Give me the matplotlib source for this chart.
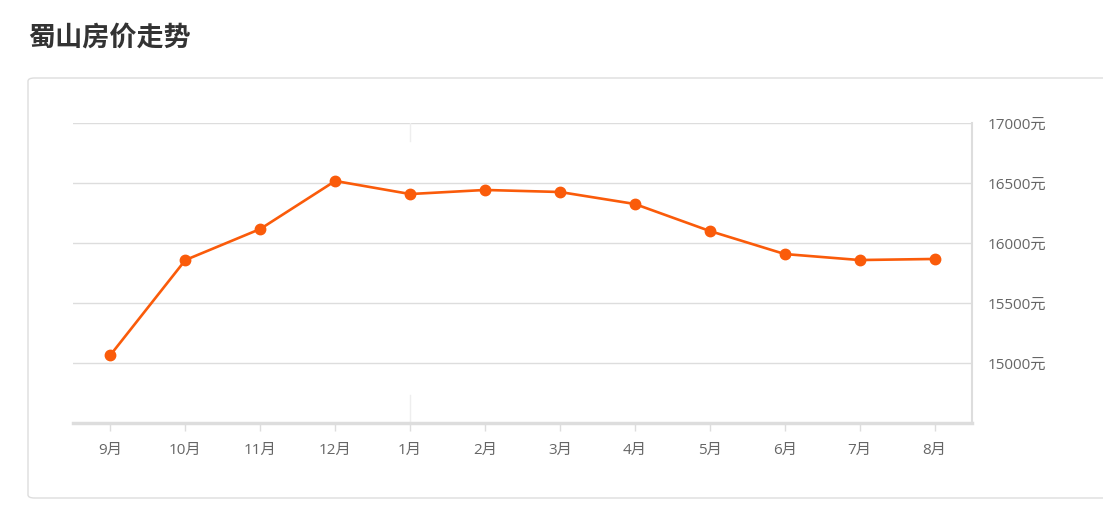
import matplotlib
matplotlib.use("Agg")
import matplotlib.pyplot as plt
from matplotlib.patches import FancyBboxPatch

plt.rcParams['font.family'] = ['Noto Sans CJK SC', 'DejaVu Sans']

months = ["9月", "10月", "11月", "12月", "1月", "2月", "3月", "4月", "5月", "6月", "7月", "8月"]
prices = [15067, 15858, 16117, 16517, 16408, 16442, 16425, 16325, 16100, 15908, 15858, 15867]
yticks = [15000, 15500, 16000, 16500, 17000]

W, H = 1103, 524
fig = plt.figure(figsize=(W / 100, H / 100), dpi=100)

# outer box
box = FancyBboxPatch((28 / W, 1 - 498 / H), 1.2, (498 - 78) / H,
                     boxstyle="round,pad=0,rounding_size=0.006",
                     transform=fig.transFigure, fill=False,
                     edgecolor="#dddddd", linewidth=1)
fig.patches.append(box)

fig.text(28 / W, 1 - 38 / H, "蜀山房价走势", fontsize=19.5, fontweight="bold",
         color="#333333", va="center", ha="left")

ax = fig.add_axes([73 / W, 1 - 423 / H, (972 - 73) / W, (423 - 123) / H])
x = list(range(len(months)))

ax.set_xlim(-0.5, len(months) - 0.5)
ax.set_ylim(14500, 17000)

for v in yticks:
    ax.axhline(v, color="#dddddd", linewidth=1, zorder=1)

# faint year separator at 1月
ax.axvline(4, ymin=0, ymax=0.095, color="#eeeeee", linewidth=1, zorder=1)
ax.axvline(4, ymin=0.94, ymax=1, color="#eeeeee", linewidth=1, zorder=1)

ax.plot(x, prices, color="#fa5b0a", linewidth=1.9, marker="o",
        markersize=7.5, zorder=3, clip_on=False)

tick_font = ['Open Sans', 'Noto Sans CJK SC']
ax.yaxis.tick_right()
ax.set_yticks(yticks)
ax.set_yticklabels([f"{v}元" for v in yticks], family=tick_font)
ax.set_xticks(x)
ax.set_xticklabels(months, family=tick_font)

ax.tick_params(axis="y", length=0, pad=11, labelsize=11, labelcolor="#666666")
ax.tick_params(axis="x", length=6, width=1, color="#dddddd", direction="out",
               pad=8, labelsize=11, labelcolor="#666666")

for s in ["top", "left"]:
    ax.spines[s].set_visible(False)
ax.spines["right"].set_color("#dddddd")
ax.spines["right"].set_linewidth(1.5)
ax.spines["bottom"].set_color("#dddddd")
ax.spines["bottom"].set_linewidth(2.5)

fig.savefig("out.png", dpi=100)
